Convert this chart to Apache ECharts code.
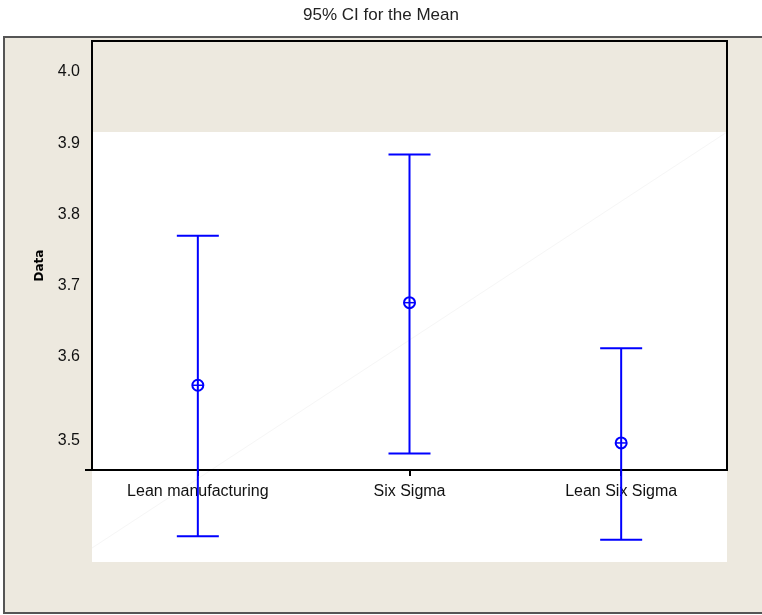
<!DOCTYPE html>
<html>
<head>
<meta charset="utf-8">
<script src="https://cdn.jsdelivr.net/npm/echarts@6/dist/echarts.min.js"></script>
<style>
  html, body { margin: 0; padding: 0; background: #fff; }
  #chart { width: 762px; height: 615px; }
</style>
</head>
<body>
<div id="chart"></div>
<script>
  // groups and 95% CI values
  const categories = ['Lean manufacturing', 'Six Sigma', 'Lean Six Sigma']
  const means = [3.560, 3.676, 3.479]
  const upper = [3.770, 3.884, 3.612]
  const lower = [3.348, 3.464, 3.343]
  const yTicks = [3.5, 3.6, 3.7, 3.8, 3.9, 4.0]

  const BLUE = '#0000ff'
  const FONT = '"Liberation Sans", Arial, sans-serif'

  const chart = echarts.init(document.getElementById('chart'))

  chart.setOption({
    animation: false,
    title: {
      text: '95% CI for the Mean',
      left: 'center',
      top: 2,
      textStyle: { fontFamily: FONT, fontWeight: 'normal', fontSize: 17, color: '#222' }
    },
    graphic: [
      {
        type: 'rect', z: -10, silent: true,
        shape: { x: 4, y: 37, width: 760, height: 576 },
        style: { fill: '#ede9df', stroke: '#555', lineWidth: 2 }
      },
      {
        type: 'rect', z: -9, silent: true,
        shape: { x: 92, y: 132, width: 635, height: 430 },
        style: { fill: '#fff' }
      },
      {
        type: 'line', z: -8, silent: true,
        shape: { x1: 92, y1: 548, x2: 727, y2: 132 },
        style: { stroke: '#f6f6f6', lineWidth: 1 }
      },
      {
        type: 'line', z: 10, silent: true,
        shape: { x1: 85, y1: 470, x2: 93, y2: 470 },
        style: { stroke: '#000', lineWidth: 2 }
      }
    ],
    grid: {
      left: 92,
      right: 35,
      top: 41,
      bottom: 145,
      show: true,
      backgroundColor: 'transparent',
      borderColor: '#000',
      borderWidth: 2
    },
    xAxis: {
      type: 'category',
      data: categories,
      axisLine: { show: true, lineStyle: { color: '#000', width: 2 } },
      axisTick: { show: true, interval: 0, alignWithLabel: true, length: 6, lineStyle: { color: '#000', width: 2 } },
      axisLabel: { fontFamily: FONT, fontSize: 16, color: '#111', margin: 14 }
    },
    yAxis: {
      type: 'value',
      min: 3.441,
      max: 4.0435,
      name: 'Data',
      nameLocation: 'middle',
      nameRotate: 90,
      nameGap: 46,
      nameTextStyle: { fontFamily: 'DejaVu Sans, Verdana, sans-serif', fontWeight: 'bold', fontSize: 12, color: '#000', padding: [0, 0, 0, -20] },
      axisLine: { show: true, lineStyle: { color: '#000', width: 2 } },
      axisTick: { show: false },
      splitLine: { show: false },
      axisLabel: {
        customValues: yTicks,
        fontFamily: FONT,
        fontSize: 16,
        color: '#111',
        margin: 12,
        formatter: function (v) {
          return v === 3.5 ? '{lo|3.5}' : v.toFixed(1)
        },
        rich: {
          lo: { fontFamily: FONT, fontSize: 16, color: '#111', padding: [26, 0, 0, 0] }
        }
      }
    },
    series: [
      {
        type: 'custom',
        clip: false,
        z: 5,
        data: categories.map((c, i) => [i, lower[i], means[i], upper[i]]),
        encode: { x: 0, y: [1, 2, 3] },
        renderItem: function (params, api) {
          let i = api.value(0)
          let top = api.coord([i, api.value(3)])
          let bot = api.coord([i, api.value(1)])
          let mid = api.coord([i, api.value(2)])
          let hw = 21
          let r = 5.5
          let line = { stroke: BLUE, lineWidth: 2 }
          let thin = { stroke: BLUE, lineWidth: 2, fill: 'none' }
          return {
            type: 'group',
            children: [
              { type: 'line', shape: { x1: top[0], y1: top[1], x2: bot[0], y2: bot[1] }, style: line },
              { type: 'line', shape: { x1: top[0] - hw, y1: top[1], x2: top[0] + hw, y2: top[1] }, style: line },
              { type: 'line', shape: { x1: bot[0] - hw, y1: bot[1], x2: bot[0] + hw, y2: bot[1] }, style: line },
              { type: 'circle', shape: { cx: mid[0], cy: mid[1], r: r }, style: thin },
              { type: 'line', shape: { x1: mid[0] - r, y1: mid[1], x2: mid[0] + r, y2: mid[1] }, style: { stroke: BLUE, lineWidth: 1.5 } }
            ]
          }
        }
      }
    ]
  })
</script>
</body>
</html>
